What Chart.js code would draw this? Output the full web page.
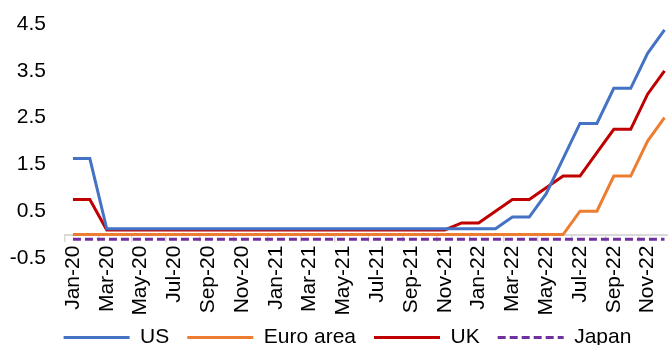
<!DOCTYPE html>
<html>
<head>
<meta charset="utf-8">
<script src="https://cdn.jsdelivr.net/npm/chart.js@4"></script>
<style>
  html, body { margin: 0; padding: 0; overflow: hidden; background: #fff; }
  #wrap { width: 695px; height: 358px; }
</style>
</head>
<body>
<div id="wrap"><canvas id="rateChart" width="695" height="358"></canvas></div>
<script>
// monthly policy rates, Jan-20 .. Dec-22
const months = [
  'Jan-20', 'Feb-20', 'Mar-20', 'Apr-20', 'May-20', 'Jun-20', 'Jul-20', 'Aug-20', 'Sep-20', 'Oct-20', 'Nov-20', 'Dec-20',
  'Jan-21', 'Feb-21', 'Mar-21', 'Apr-21', 'May-21', 'Jun-21', 'Jul-21', 'Aug-21', 'Sep-21', 'Oct-21', 'Nov-21', 'Dec-21',
  'Jan-22', 'Feb-22', 'Mar-22', 'Apr-22', 'May-22', 'Jun-22', 'Jul-22', 'Aug-22', 'Sep-22', 'Oct-22', 'Nov-22', 'Dec-22'
];
const usRate = [
  1.625, 1.625, 0.125, 0.125, 0.125, 0.125, 0.125, 0.125, 0.125, 0.125, 0.125, 0.125,
  0.125, 0.125, 0.125, 0.125, 0.125, 0.125, 0.125, 0.125, 0.125, 0.125, 0.125, 0.125,
  0.125, 0.125, 0.375, 0.375, 0.875, 1.625, 2.375, 2.375, 3.125, 3.125, 3.875, 4.375
];
const euroRate = [
  0, 0, 0, 0, 0, 0, 0, 0, 0, 0, 0, 0,
  0, 0, 0, 0, 0, 0, 0, 0, 0, 0, 0, 0,
  0, 0, 0, 0, 0, 0, 0.5, 0.5, 1.25, 1.25, 2.0, 2.5
];
const ukRate = [
  0.75, 0.75, 0.1, 0.1, 0.1, 0.1, 0.1, 0.1, 0.1, 0.1, 0.1, 0.1,
  0.1, 0.1, 0.1, 0.1, 0.1, 0.1, 0.1, 0.1, 0.1, 0.1, 0.1, 0.25,
  0.25, 0.5, 0.75, 0.75, 1.0, 1.25, 1.25, 1.75, 2.25, 2.25, 3.0, 3.5
];
const japanRate = [
  -0.1, -0.1, -0.1, -0.1, -0.1, -0.1, -0.1, -0.1, -0.1, -0.1, -0.1, -0.1,
  -0.1, -0.1, -0.1, -0.1, -0.1, -0.1, -0.1, -0.1, -0.1, -0.1, -0.1, -0.1,
  -0.1, -0.1, -0.1, -0.1, -0.1, -0.1, -0.1, -0.1, -0.1, -0.1, -0.1, -0.1
];
const yTickValues = [-0.5, 0.5, 1.5, 2.5, 3.5, 4.5];

const textFont = { family: "'Liberation Sans', Arial, sans-serif", size: 21 };
const axisGrey = '#D9D9D9';

document.addEventListener('DOMContentLoaded', function () {
  const ctx = document.getElementById('rateChart').getContext('2d');
  const line = (label, data, color, dash) => ({
    label: label,
    data: data,
    borderColor: color,
    backgroundColor: color,
    borderWidth: 3,
    borderDash: dash || [],
    borderCapStyle: 'butt',
    pointRadius: 0,
    tension: 0,
    fill: false
  });
  new Chart(ctx, {
    type: 'line',
    data: {
      labels: months,
      datasets: [
        line('US', usRate, '#4472C4'),
        line('Euro area', euroRate, '#ED7D31'),
        line('UK', ukRate, '#C00000'),
        line('Japan', japanRate, '#7030A0', [8, 4])
      ]
    },
    options: {
      responsive: false,
      animation: false,
      devicePixelRatio: 1,
      layout: { padding: { top: 24, left: 0, right: 0, bottom: 0 } },
      plugins: {
        legend: {
          display: true,
          position: 'bottom',
          labels: {
            usePointStyle: true,
            pointStyle: 'line',
            pointStyleWidth: 66,
            boxHeight: 10,
            padding: 18,
            color: '#000',
            font: textFont,
            // legend keys take the line's own width and dash
            generateLabels: chart => {
              const items = Chart.defaults.plugins.legend.labels.generateLabels(chart);
              items.forEach(it => {
                const ds = chart.data.datasets[it.datasetIndex];
                it.lineWidth = ds.borderWidth;
                it.lineDash = ds.borderDash;
                it.strokeStyle = ds.borderColor;
              });
              return items;
            }
          }
        },
        tooltip: { enabled: false }
      },
      scales: {
        // category axis sits on the zero line, labels hang into the plot
        x: {
          position: { y: 0 },
          offset: true,
          border: { display: true, color: axisGrey, width: 2 },
          grid: {
            display: true,
            offset: true,
            drawOnChartArea: false,
            drawTicks: true,
            tickLength: 6,
            lineWidth: 1.5,
            color: c => (c.index % 2 === 0 ? axisGrey : 'rgba(0,0,0,0)')
          },
          ticks: {
            autoSkip: false,
            maxRotation: 90,
            minRotation: 90,
            padding: 5,
            color: '#000',
            font: textFont,
            callback: (v, i) => (i % 2 === 0 ? months[i] : '')
          }
        },
        // empty box below the plot, room for the month labels
        x2: {
          type: 'linear',
          position: 'bottom',
          afterFit: s => { s.height = 51; },
          border: { display: false },
          grid: { display: false },
          ticks: { display: false }
        },
        y: {
          min: -0.5,
          max: 4.5,
          afterBuildTicks: s => { s.ticks = yTickValues.map(v => ({ value: v })); },
          afterFit: s => { s.width = 64.5; s.paddingTop = 0; s.paddingBottom = 0; },
          border: { display: false },
          grid: { display: false, drawTicks: false },
          ticks: {
            padding: 18.5,
            color: '#000',
            font: textFont,
            callback: v => String(v)
          }
        },
        // empty right-hand box, keeps the legend centred like the original
        y2: {
          position: 'right',
          afterFit: s => { s.width = 18.5; s.paddingTop = 0; s.paddingBottom = 0; },
          border: { display: false },
          grid: { display: false },
          ticks: { display: false }
        }
      }
    }
  });
});
</script>
</body>
</html>
